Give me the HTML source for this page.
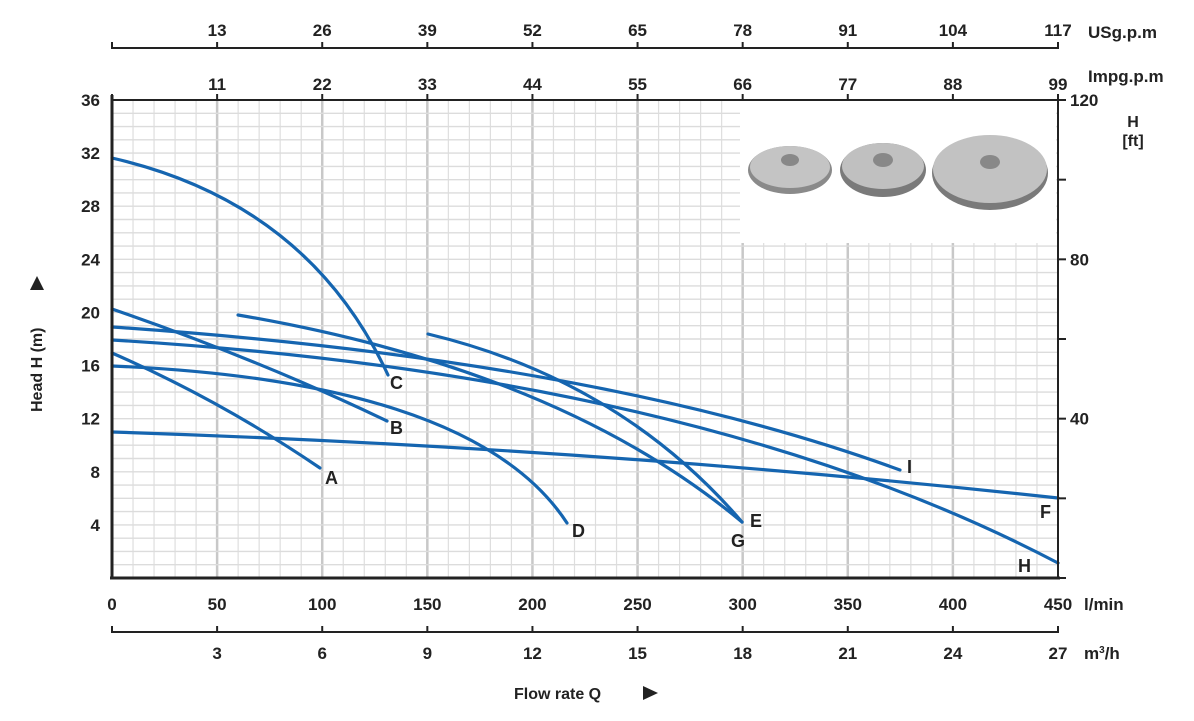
<!DOCTYPE html>
<html><head><meta charset="utf-8"><style>
html,body{margin:0;padding:0;background:#fff;}
svg text{font-family:"Liberation Sans",sans-serif;font-weight:bold;fill:#222;}
</style></head><body>
<svg id="s" width="1194" height="716" xmlns="http://www.w3.org/2000/svg">
<g id="grid"></g>
<rect x="740" y="101" width="316" height="142" fill="#fff"/>
<g>
<ellipse cx="790" cy="170" rx="42" ry="24" fill="#8a8a8a"/>
<ellipse cx="790" cy="167" rx="40" ry="21" fill="#c4c4c4"/>
<ellipse cx="790" cy="160" rx="9" ry="6" fill="#888"/>
<ellipse cx="883" cy="170" rx="43" ry="27" fill="#7a7a7a"/>
<ellipse cx="883" cy="166" rx="41" ry="23" fill="#c0c0c0"/>
<ellipse cx="883" cy="160" rx="10" ry="7" fill="#888"/>
<ellipse cx="990" cy="173" rx="58" ry="37" fill="#7a7a7a"/>
<ellipse cx="990" cy="169" rx="57" ry="34" fill="#c2c2c2"/>
<ellipse cx="990" cy="162" rx="10" ry="7" fill="#888"/>
</g>
<g fill="none" stroke="#1565b0" stroke-width="3.2" stroke-linecap="round">
<path d="M112,158 C230,185 330,250 388,375"/>
<path d="M112,353 Q220,400 320,468"/>
<path d="M112,309 Q260,360 387,421"/>
<path d="M112,366 C330,375 500,420 567,523"/>
<path d="M112,432 Q600,448 1058,498"/>
<path d="M112,327 Q600,360 900,470"/>
<path d="M112,340 Q700,375 1058,563"/>
<path d="M238,315 Q560,370 742,522"/>
<path d="M428,334 Q620,380 742,522"/>
</g>
<g font-size="18">
<text x="390" y="389">C</text><text x="325" y="484">A</text><text x="390" y="434">B</text>
<text x="572" y="537">D</text><text x="750" y="527">E</text><text x="731" y="547">G</text>
<text x="907" y="473">I</text><text x="1040" y="518">F</text><text x="1018" y="572">H</text>
</g>
<g id="axes"></g>
</svg>
<script>
const NS="http://www.w3.org/2000/svg",g=document.getElementById('grid'),a=document.getElementById('axes');
function el(p,t,attrs,txt){const e=document.createElementNS(NS,t);for(const k in attrs)e.setAttribute(k,attrs[k]);if(txt!==undefined)e.textContent=txt;p.appendChild(e);return e;}
const X=v=>112+v*946/450, Y=v=>578-v*478/36;
for(let v=10;v<450;v+=10){const maj=v%50==0;el(g,'line',{x1:X(v),x2:X(v),y1:100,y2:578,stroke:maj?'#c8c8c8':'#dedede','stroke-width':maj?2.5:1.2});}
for(let v=1;v<36;v++){el(g,'line',{x1:112,x2:1058,y1:Y(v),y2:Y(v),stroke:'#dcdcdc','stroke-width':1.4});}
el(a,'line',{x1:112,x2:112,y1:95,y2:579,stroke:'#222','stroke-width':3});
el(a,'line',{x1:110,x2:1060,y1:578,y2:578,stroke:'#222','stroke-width':3});
el(a,'line',{x1:112,x2:1058,y1:100,y2:100,stroke:'#222','stroke-width':2});
el(a,'line',{x1:1058,x2:1058,y1:95,y2:579,stroke:'#222','stroke-width':2});
for(let v=4;v<=36;v+=4){el(a,'text',{x:100,y:Y(v)+6,'text-anchor':'end','font-size':17},v);}
for(let v=0;v<=450;v+=50){el(a,'text',{x:X(v),y:610,'text-anchor':'middle','font-size':17},v);}
el(a,'text',{x:1084,y:610,'font-size':17},'l/min');
el(a,'line',{x1:112,x2:1058,y1:632,y2:632,stroke:'#222','stroke-width':2});
for(let i=0;i<=9;i++){const x=112+i*946/9;el(a,'line',{x1:x,x2:x,y1:626,y2:633,stroke:'#222','stroke-width':2});if(i>0)el(a,'text',{x:x,y:659,'text-anchor':'middle','font-size':17},i*3);}
const m=el(a,'text',{x:1084,y:659,'font-size':17},'m');el(m,'tspan',{dy:-6,'font-size':10},'3');el(m,'tspan',{dy:6},'/h');
for(let i=0;i<=9;i++){const x=112+i*946/9;el(a,'line',{x1:x,x2:x,y1:94,y2:100,stroke:'#222','stroke-width':2});if(i>0)el(a,'text',{x:x,y:90,'text-anchor':'middle','font-size':17},i*11);}
el(a,'text',{x:1088,y:82,'font-size':17},'Impg.p.m');
el(a,'line',{x1:112,x2:1058,y1:48,y2:48,stroke:'#222','stroke-width':2});
for(let i=0;i<=9;i++){const x=112+i*946/9;el(a,'line',{x1:x,x2:x,y1:42,y2:49,stroke:'#222','stroke-width':2});if(i>0)el(a,'text',{x:x,y:36,'text-anchor':'middle','font-size':17},i*13);}
el(a,'text',{x:1088,y:38,'font-size':17},'USg.p.m');
for(let f=0;f<=120;f+=20){const y=578-f*478/120;el(a,'line',{x1:1058,x2:1066,y1:y,y2:y,stroke:'#222','stroke-width':2});if(f%40==0&&f>0)el(a,'text',{x:1070,y:y+6,'font-size':17},f);}
el(a,'text',{x:1133,y:127,'text-anchor':'middle','font-size':16},'H');
el(a,'text',{x:1133,y:146,'text-anchor':'middle','font-size':16},'[ft]');
el(a,'text',{x:0,y:0,'font-size':16,transform:'translate(42,412) rotate(-90)'},'Head H (m)');
el(a,'path',{d:'M30,290 L44,290 L37,276 Z',fill:'#222'});
el(a,'text',{x:514,y:699,'font-size':16},'Flow rate Q');
el(a,'path',{d:'M643,686 L643,700 L658,693 Z',fill:'#222'});
</script>
</body></html>
